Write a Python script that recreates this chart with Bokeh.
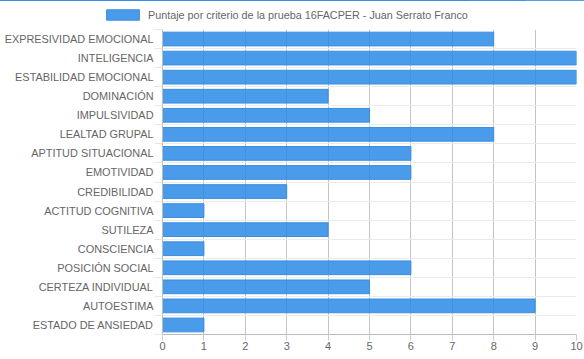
from bokeh.plotting import figure
from bokeh.layouts import column
from bokeh.models import Range1d, FixedTicker, Legend, LegendItem, ColumnDataSource
from bokeh.embed import file_html
from bokeh.resources import INLINE

categories = ["EXPRESIVIDAD EMOCIONAL", "INTELIGENCIA", "ESTABILIDAD EMOCIONAL", "DOMINACIÓN",
              "IMPULSIVIDAD", "LEALTAD GRUPAL", "APTITUD SITUACIONAL", "EMOTIVIDAD",
              "CREDIBILIDAD", "ACTITUD COGNITIVA", "SUTILEZA", "CONSCIENCIA",
              "POSICIÓN SOCIAL", "CERTEZA INDIVIDUAL", "AUTOESTIMA", "ESTADO DE ANSIEDAD"]
values = [8, 10, 10, 4, 5, 8, 6, 6, 3, 1, 4, 1, 6, 5, 9, 1]
x_ticks = [0, 1, 2, 3, 4, 5, 6, 7, 8, 9, 10]
series_name = "Puntaje por criterio de la prueba 16FACPER - Juan Serrato Franco"

BAR_FILL = "#2a8ae6"
BAR_ALPHA = 0.85
BAR_LINE = "#3a8fe2"

n = len(categories)
pos = list(range(n))
src = ColumnDataSource(dict(y=pos, v=values, name=categories))

# ---- legend strip (its own small plot, not frame-aligned) ----
pl = figure(width=584, height=24, output_backend="svg", toolbar_location=None,
            x_range=Range1d(0, 10), y_range=Range1d(-100, -99),
            min_border_left=0, min_border_right=0, min_border_top=0, min_border_bottom=0)
pl.frame_align = False
pl.outline_line_color = None
pl.axis.visible = False
pl.grid.visible = False
proxy = pl.hbar(y="y", right="v", left=0, height=0.72, source=src,
                fill_color=BAR_FILL, fill_alpha=BAR_ALPHA, line_color=BAR_LINE, line_width=1)
legend = Legend(items=[LegendItem(label=series_name, renderers=[proxy], index=0)],
                orientation="horizontal", location=(102, 3),
                glyph_width=41, glyph_height=13, label_text_font_size="10.8px",
                label_text_font="Liberation Sans", label_text_color="#666666",
                border_line_color=None, background_fill_alpha=0,
                padding=2, margin=0, spacing=0, label_standoff=5, label_height=13)
pl.add_layout(legend)

# ---- chart ----
p = figure(width=584, height=335, output_backend="svg", toolbar_location=None,
           x_range=Range1d(0, 10), y_range=Range1d(n - 0.5, -0.5),
           min_border_left=162, min_border_right=8, min_border_top=5, min_border_bottom=25)
p.frame_align = False
p.outline_line_color = None

p.hbar(y="y", right="v", left=0, height=0.72, source=src,
       fill_color=BAR_FILL, fill_alpha=BAR_ALPHA, line_color=BAR_LINE, line_width=1)

p.xaxis.ticker = FixedTicker(ticks=x_ticks)
p.xaxis.axis_line_color = "#bbbbbb"
p.xaxis.major_tick_line_color = "#cccccc"
p.xaxis.major_tick_out = 6
p.xaxis.major_tick_in = 0
p.xaxis.minor_tick_line_color = None
p.xaxis.major_label_text_color = "#666666"
p.xaxis.major_label_text_font = "Liberation Sans"
p.xaxis.major_label_text_font_size = "11px"
p.xaxis.major_label_standoff = 1

bounds = [i - 0.5 for i in range(n + 1)]
p.yaxis.ticker = FixedTicker(ticks=pos, minor_ticks=bounds)
p.yaxis.major_label_overrides = {i: c for i, c in enumerate(categories)}
p.yaxis.axis_line_color = "#bbbbbb"
p.yaxis.major_tick_line_color = None
p.yaxis.minor_tick_line_color = "#e6e6e6"
p.yaxis.minor_tick_out = 8
p.yaxis.minor_tick_in = 0
p.yaxis.major_label_text_color = "#666666"
p.yaxis.major_label_text_font = "Liberation Sans"
p.yaxis.major_label_text_font_size = "10.9px"
p.yaxis.major_label_standoff = 1

p.xgrid.ticker = FixedTicker(ticks=x_ticks)
p.xgrid.grid_line_color = "#c4c4c4"
p.ygrid.ticker = FixedTicker(ticks=bounds)
p.ygrid.grid_line_color = "#ebebeb"

layout = column(pl, p, spacing=0)
open("out.html", "w").write(file_html(layout, INLINE))
